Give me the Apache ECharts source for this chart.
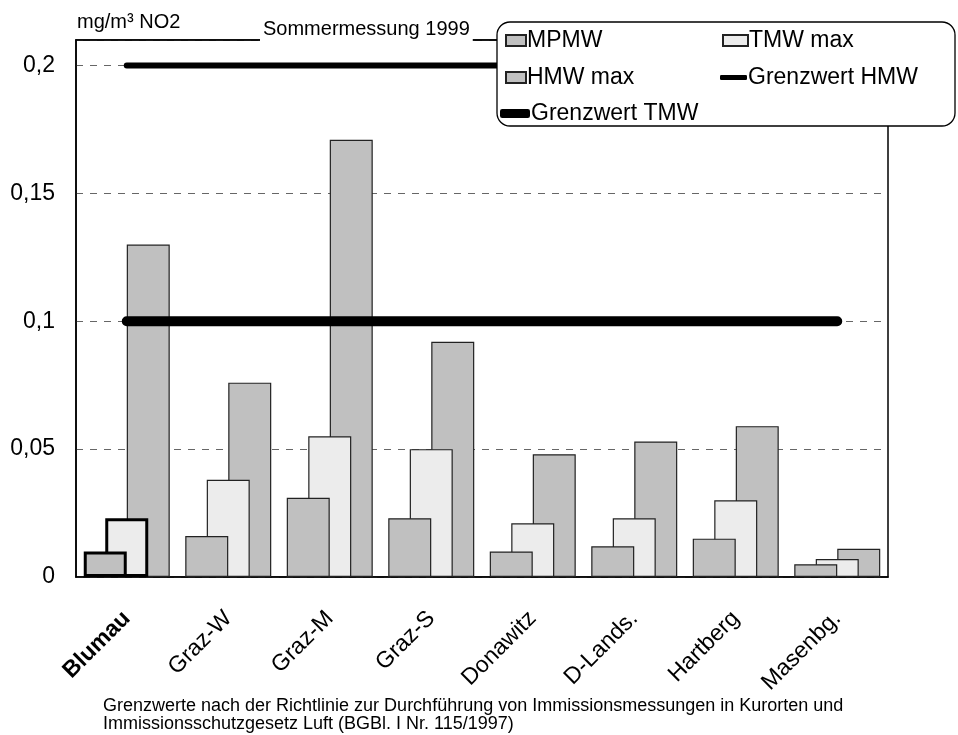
<!DOCTYPE html>
<html>
<head>
<meta charset="utf-8">
<script src="https://cdn.jsdelivr.net/npm/echarts@6/dist/echarts.min.js"></script>
<style>html,body{margin:0;padding:0;background:#fff}#c{width:958px;height:735px}</style>
</head>
<body>
<div id="c"></div>
<script>
var categories = ['Blumau', 'Graz-W', 'Graz-M', 'Graz-S', 'Donawitz', 'D-Lands.', 'Hartberg', 'Masenbg.'];
var mpmw = [0.010, 0.016, 0.031, 0.023, 0.010, 0.012, 0.015, 0.005];
var tmwMax = [0.023, 0.038, 0.055, 0.050, 0.021, 0.023, 0.030, 0.007];
var hmwMax = [0.130, 0.076, 0.171, 0.092, 0.048, 0.053, 0.059, 0.011];
var grenzwertHMW = [0.2, 0.2, 0.2, 0.2, 0.2, 0.2, 0.2, 0.2];
var grenzwertTMW = [0.1, 0.1, 0.1, 0.1, 0.1, 0.1, 0.1, 0.1];
var yTicks = [0, 0.05, 0.1, 0.15, 0.2];

var FONT = 'Liberation Sans, Arial, sans-serif';
var DARK = '#c0c0c0', LIGHT = '#ececec';

function barData(arr, highlight) {
  return arr.map(function (v, i) {
    if (highlight && i === 0) return { value: v, itemStyle: { borderColor: '#000', borderWidth: 3 } };
    return v;
  });
}

var chart = echarts.init(document.getElementById('c'));
function legendAt(name, left, top, w, h, icon) {
  return {
    data: [{ name: name, icon: icon || 'rect' }],
    left: left, top: top, itemWidth: w, itemHeight: h, itemGap: 0, padding: 0,
    selectedMode: false, z: 110,
    textStyle: { fontFamily: FONT, fontSize: 23, color: '#000', padding: [0, 0, 0, -4] }
  };
}

chart.setOption({
  animation: false,
  backgroundColor: '#fff',
  title: [
    { text: 'mg/m³ NO2', left: 77, top: 12, padding: 0,
      textStyle: { fontFamily: FONT, fontSize: 20, fontWeight: 'normal', color: '#000', lineHeight: 20 } },
    { text: 'Sommermessung 1999', left: 260, top: 17, padding: [2, 3, 4, 3], backgroundColor: '#fff', z: 20,
      textStyle: { fontFamily: FONT, fontSize: 20, fontWeight: 'normal', color: '#000', lineHeight: 20 } },
    { text: 'Grenzwerte nach der Richtlinie zur Durchführung von Immissionsmessungen in Kurorten und\nImmissionsschutzgesetz Luft (BGBl. I Nr. 115/1997)',
      left: 103, top: 697, padding: 0,
      textStyle: { fontFamily: FONT, fontSize: 18, fontWeight: 'normal', color: '#000', lineHeight: 18 } }
  ],
  legend: [
    legendAt('MPMW', 505, 29, 20, 11),
    legendAt('HMW max', 505, 66, 20, 11),
    legendAt('Grenzwert TMW', 500, 102, 30, 9, 'roundRect'),
    legendAt('TMW max', 722, 29, 25, 11),
    legendAt('Grenzwert HMW', 720, 66, 27, 5, 'roundRect')
  ],
  graphic: [{
    type: 'rect', z: 100,
    shape: { x: 497, y: 22, width: 458, height: 104, r: 13 },
    style: { fill: '#fff', stroke: '#000', lineWidth: 1.3 }
  }],
  grid: { left: 76, right: 70, top: 40, bottom: 158, show: true, borderColor: '#000', borderWidth: 1.5, backgroundColor: 'transparent' },
  xAxis: [{
    type: 'category', data: categories, boundaryGap: true,
    axisLine: { lineStyle: { color: '#000', width: 1.5 } },
    axisTick: { show: false },
    axisLabel: {
      rotate: 45, margin: 38, fontFamily: FONT, fontSize: 23, color: '#000', interval: 0,
      formatter: function (v, i) { return i === 0 ? '{b|' + v + '}' : v; },
      rich: { b: { fontFamily: FONT, fontSize: 23, fontWeight: 'bold', color: '#000' } }
    }
  }, {
    type: 'category', data: categories, position: 'top',
    axisLine: { lineStyle: { color: '#000', width: 1.5 } },
    axisTick: { show: false }, axisLabel: { show: false }
  }],
  yAxis: {
    type: 'value', min: 0, max: 0.21, interval: 0.05,
    axisLine: { show: true, lineStyle: { color: '#000', width: 1.5 } },
    axisTick: { show: false },
    splitLine: { show: true, lineStyle: { color: '#666', type: [7, 7], width: 1 } },
    axisLabel: {
      margin: 21, fontFamily: FONT, fontSize: 23, color: '#000', showMaxLabel: false,
      formatter: function (v) {
        var r = Number(v.toFixed(2));
        if (yTicks.indexOf(r) < 0) return '';
        return String(r).replace('.', ',');
      }
    }
  },
  series: [
    { name: 'MPMW', type: 'bar', data: barData(mpmw, true), barWidth: 43, barGap: '-50%', z: 4,
      itemStyle: { color: DARK, borderColor: '#222', borderWidth: 1.2 } },
    { name: 'TMW max', type: 'bar', data: barData(tmwMax, true), barWidth: 43, barGap: '-50%', z: 3,
      itemStyle: { color: LIGHT, borderColor: '#222', borderWidth: 1.2 } },
    { name: 'HMW max', type: 'bar', data: barData(hmwMax, false), barWidth: 43, barGap: '-50%', z: 2,
      itemStyle: { color: DARK, borderColor: '#222', borderWidth: 1.2 } },
    { name: 'Grenzwert HMW', type: 'line', data: grenzwertHMW, z: 6, showSymbol: false, symbol: 'none',
      lineStyle: { color: '#000', width: 6, cap: 'round' }, itemStyle: { color: '#000' } },
    { name: 'Grenzwert TMW', type: 'line', data: grenzwertTMW, z: 6, showSymbol: false, symbol: 'none',
      lineStyle: { color: '#000', width: 10, cap: 'round' }, itemStyle: { color: '#000' } }
  ]
});
</script>
</body>
</html>
